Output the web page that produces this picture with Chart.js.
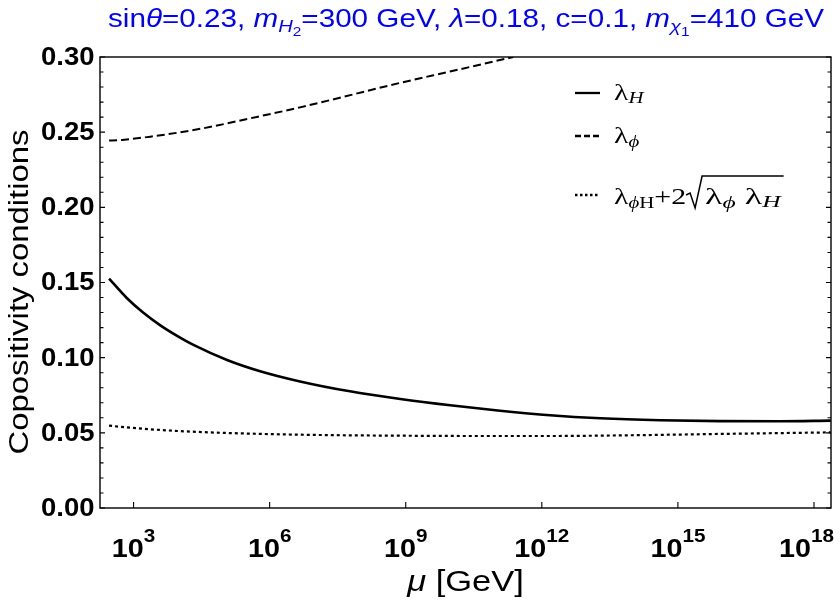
<!DOCTYPE html>
<html>
<head>
<meta charset="utf-8">
<script src="https://cdn.jsdelivr.net/npm/chart.js@4.4.1/dist/chart.umd.min.js"></script>
<style>
  html, body { margin: 0; padding: 0; background: #fff; }
  #wrap { width: 840px; height: 604px; }
</style>
</head>
<body>
<div id="wrap"><canvas id="copChart"></canvas></div>
<script>
// exponents are log10(mu / GeV)
const lamHExp = [2.46, 2.85, 3.21, 3.59, 3.96, 4.32, 5.06, 5.79, 6.67, 7.77, 8.88, 9.98, 11.08, 12.18, 13.29, 14.61, 15.93, 17.25, 18.37];
const lamH    = [0.1526, 0.1397, 0.1300, 0.1215, 0.1145, 0.1085, 0.0985, 0.0910, 0.0842, 0.0776, 0.0725, 0.0683, 0.0647, 0.0617, 0.0597, 0.0584, 0.0578, 0.0577, 0.0581];

const lamPhiExp = [2.46, 2.66, 2.85, 3.37, 4.47, 5.57, 6.67, 8.88, 10.0, 11.37];
const lamPhi    = [0.2444, 0.2446, 0.2452, 0.2470, 0.2522, 0.2592, 0.2665, 0.2828, 0.2905, 0.300];

const copExp = [2.46, 2.85, 3.59, 4.5, 5.79, 7.0, 8.88, 10.5, 12.18, 14.0, 16.0, 18.37];
const copVal = [0.0548, 0.0536, 0.0519, 0.0505, 0.0493, 0.0486, 0.0481, 0.0479, 0.0479, 0.0484, 0.0493, 0.0503];

const yTickVals = [0, 0.05, 0.10, 0.15, 0.20, 0.25, 0.30];
const xTickExp = [3, 6, 9, 12, 15, 18];
const xMinExp = 2.26, xMaxExp = 18.375;

function toPoints(exps, vals) {
    return exps.map((e, i) => ({ x: Math.pow(10, e), y: vals[i] }));
}

const SANS = "'Liberation Sans', Arial, sans-serif";
const SERIF = "'Liberation Serif', 'DejaVu Serif', serif";

function runWidth(ctx, parts) {
    let w = 0;
    parts.forEach(p => { ctx.font = p[1]; w += ctx.measureText(p[0]).width; });
    return w;
}

// draws pieces [text, font, dy] stretched by sx along the baseline; returns end x
function drawRun(ctx, x, y, parts, align, sx) {
    sx = sx || 1;
    const total = runWidth(ctx, parts) * sx;
    const start = align === 'center' ? x - total / 2 : (align === 'right' ? x - total : x);
    ctx.save();
    ctx.translate(start, y);
    ctx.scale(sx, 1);
    let cx = 0;
    parts.forEach(p => {
        ctx.font = p[1];
        ctx.fillText(p[0], cx, p[2] || 0);
        cx += ctx.measureText(p[0]).width;
    });
    ctx.restore();
    return start + total;
}

const decorPlugin = {
    id: 'decor',
    afterDraw(chart) {
        const ctx = chart.ctx;
        const area = chart.chartArea;
        const xs = chart.scales.x, ys = chart.scales.y;
        ctx.save();
        ctx.strokeStyle = '#000';
        ctx.fillStyle = '#000';
        ctx.lineWidth = 1.4;
        ctx.strokeRect(area.left, area.top, area.right - area.left, area.bottom - area.top);

        // inward ticks
        ctx.lineWidth = 1.1;
        for (let i = 0; i <= 30; i++) {
            const py = ys.getPixelForValue(i / 100);
            const len = i % 5 === 0 ? 5 : 3.5;
            ctx.beginPath();
            ctx.moveTo(area.left, py); ctx.lineTo(area.left + len, py);
            ctx.moveTo(area.right, py); ctx.lineTo(area.right - len, py);
            ctx.stroke();
        }
        xTickExp.forEach(e => {
            const px = xs.getPixelForValue(Math.pow(10, e));
            ctx.beginPath();
            ctx.moveTo(px, area.bottom); ctx.lineTo(px, area.bottom - 6);
            ctx.stroke();
        });

        // y tick labels
        ctx.textBaseline = 'middle';
        yTickVals.forEach(v => {
            drawRun(ctx, area.left - 5.5, ys.getPixelForValue(v) + 1,
                [[v.toFixed(2), 'bold 25px ' + SANS, 0]], 'right', 1.1);
        });

        // x tick labels 10^n
        ctx.textBaseline = 'alphabetic';
        xTickExp.forEach(e => {
            const px = xs.getPixelForValue(Math.pow(10, e));
            const parts = [['10', 'bold 25px ' + SANS, 0], [String(e), 'bold 18px ' + SANS, -15]];
            const w = runWidth(ctx, parts) * 1.15;
            const left = Math.min(px - w / 2, 834 - w);
            drawRun(ctx, left, 557, parts, 'left', 1.15);
        });

        // x axis title
        const midX = (area.left + area.right) / 2;
        drawRun(ctx, midX, 591, [
            ['\u03bc', 'italic 30px ' + SANS, 0],
            [' [GeV]', '30px ' + SANS, 0]
        ], 'center', 1.15);

        // y axis title, rotated
        const yParts = [['Copositivity conditions', '27px ' + SANS, 0]];
        ctx.save();
        ctx.translate(28, 292);
        ctx.rotate(-Math.PI / 2);
        drawRun(ctx, 0, 0, yParts, 'center', 325 / runWidth(ctx, yParts));
        ctx.restore();

        // title with subscripts
        ctx.fillStyle = '#0000ff';
        const t = '25px ' + SANS, ti = 'italic 25px ' + SANS;
        const ts = 'italic 17px ' + SANS, ts2 = '13px ' + SANS;
        const tParts = [
            ['sin', t], ['\u03b8', ti], ['=0.23, ', t],
            ['m', ti], ['H', ts, 5], ['2', ts2, 9], ['=300 GeV, ', t],
            ['\u03bb', ti], ['=0.18, c=0.1, ', t],
            ['m', ti], ['\u03c7', ts, 5], ['1', ts2, 9], ['=410 GeV', t]
        ];
        drawRun(ctx, 466, 27, tParts, 'center', 716 / runWidth(ctx, tParts));

        // legend
        ctx.fillStyle = '#000';
        ctx.strokeStyle = '#000';
        const big = '23px ' + SERIF, subI = 'italic 16px ' + SERIF, subR = '16px ' + SERIF;
        const big2 = '24px ' + SERIF, subI2 = 'italic 17px ' + SERIF;
        const LS = 1.3;
        const lx0 = 575, lx1 = 600, tx = 614;
        const rows = [
            { y: 93, dash: [] },
            { y: 136, dash: [6, 3] },
            { y: 195, dash: [2.5, 2.5] }
        ];
        rows.forEach(r => {
            ctx.save();
            ctx.lineWidth = 2.3;
            ctx.setLineDash(r.dash);
            ctx.beginPath();
            ctx.moveTo(lx0, r.y); ctx.lineTo(lx1, r.y);
            ctx.stroke();
            ctx.restore();
        });
        drawRun(ctx, tx, 100, [['\u03bb', big], ['H', subI, 3]], 'left', LS);
        drawRun(ctx, tx, 143, [['\u03bb', big], ['\u03d5', subI, 4]], 'left', LS);
        const base = 204;
        const ex = drawRun(ctx, tx, base, [
            ['\u03bb', big], ['\u03d5', subI, 4], ['H', subR, 4], ['+2', big]
        ], 'left', LS);
        // radical sign
        const rx = ex;
        const innerEnd = drawRun(ctx, rx + 19, base, [
            ['\u03bb', big2], ['\u03d5', subI2, 4], [' ', big2], ['\u03bb', big2], ['H', subI2, 3]
        ], 'left', 1.5);
        ctx.lineWidth = 1.5;
        ctx.beginPath();
        ctx.moveTo(rx, base - 9);
        ctx.lineTo(rx + 4, base - 11);
        ctx.lineTo(rx + 9, base + 4);
        ctx.lineTo(rx + 16, base - 28);
        ctx.lineTo(innerEnd + 3, base - 28);
        ctx.stroke();
        ctx.restore();
    }
};

const ctx = document.getElementById('copChart').getContext('2d');

new Chart(ctx, {
    type: 'line',
    data: {
        datasets: [{
            label: '\u03bbH',
            data: toPoints(lamHExp, lamH),
            borderColor: '#000',
            borderWidth: 2.6,
            pointRadius: 0,
            fill: false,
            cubicInterpolationMode: 'monotone'
        },
        {
            label: '\u03bb\u03d5',
            data: toPoints(lamPhiExp, lamPhi),
            borderColor: '#000',
            borderWidth: 2,
            borderDash: [8, 4],
            pointRadius: 0,
            fill: false,
            cubicInterpolationMode: 'monotone'
        },
        {
            label: 'copositivity',
            data: toPoints(copExp, copVal),
            borderColor: '#000',
            borderWidth: 2.2,
            borderDash: [3, 3],
            pointRadius: 0,
            fill: false,
            cubicInterpolationMode: 'monotone'
        }]
    },
    options: {
        responsive: true,
        maintainAspectRatio: false,
        animation: false,
        layout: { padding: { top: 57, right: 9, left: 0, bottom: 0 } },
        scales: {
            x: {
                type: 'logarithmic',
                min: Math.pow(10, xMinExp),
                max: Math.pow(10, xMaxExp),
                ticks: { display: false },
                grid: { display: false, drawTicks: false },
                border: { display: false },
                afterFit: s => { s.height = 96; }
            },
            y: {
                min: 0,
                max: 0.30,
                ticks: { display: false, stepSize: 0.05 },
                grid: { display: false, drawTicks: false },
                border: { display: false },
                afterFit: s => { s.width = 100; }
            }
        },
        plugins: {
            legend: { display: false },
            tooltip: { enabled: false }
        }
    },
    plugins: [decorPlugin]
});
</script>
</body>
</html>
